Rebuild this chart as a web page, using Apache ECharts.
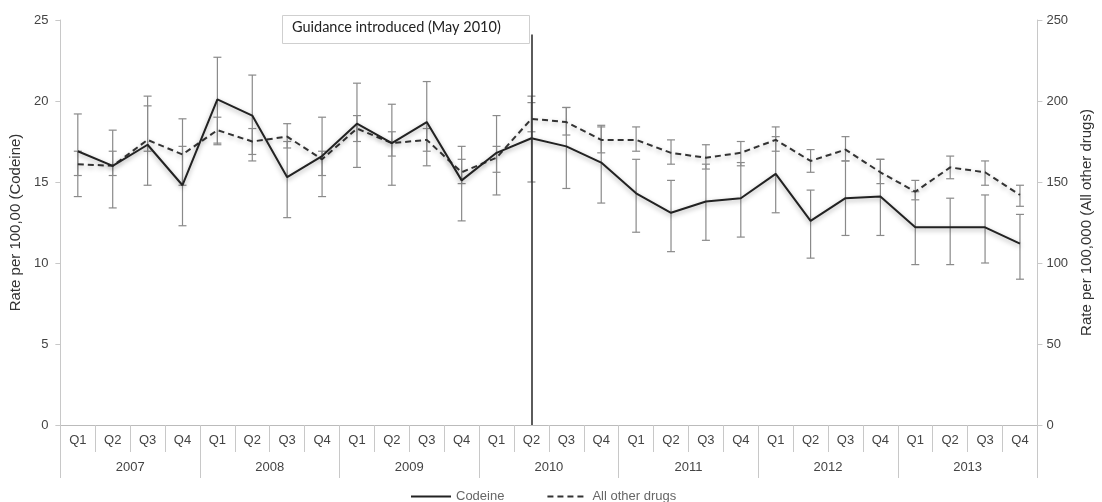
<!DOCTYPE html>
<html>
<head>
<meta charset="utf-8">
<script src="https://cdn.jsdelivr.net/npm/echarts@6/dist/echarts.min.js"></script>
<style>html,body{margin:0;padding:0;background:#fff}#c{width:1102px;height:502px}</style>
</head>
<body>
<div id="c"></div>
<script>
const quarters = ['Q1','Q2','Q3','Q4'];
const years = ['2007','2008','2009','2010','2011','2012','2013'];
const categories = years.flatMap(y => quarters.map(q => q + ' ' + y));
const codeine     = [16.9,16.0,17.3,14.8,20.1,19.1,15.3,16.6,18.6,17.4,18.7,15.1,16.8,17.7,17.2,16.2,14.3,13.1,13.8,14.0,15.5,12.6,14.0,14.1,12.2,12.2,12.2,11.2];
const codeineLow  = [14.1,13.4,14.8,12.3,17.3,16.3,12.8,14.1,15.9,14.8,16.0,12.6,14.2,15.0,14.6,13.7,11.9,10.7,11.4,11.6,13.1,10.3,11.7,11.7,9.9,9.9,10.0,9.0];
const codeineHigh = [19.2,18.2,20.3,17.2,22.7,21.6,17.5,19.0,21.1,19.8,21.2,17.2,19.1,20.3,19.6,18.5,16.4,15.1,16.1,16.2,17.8,14.5,16.3,16.4,14.4,14.0,14.2,13.0];
const otherDrugs  = [161,160,176,167,182,175,178,164,183,174,176,156,165,189,187,176,176,168,165,168,176,163,170,156,144,159,156,142];
const otherLow    = [154,154,169,148,174,167,171,154,175,166,169,149,156,181,179,168,169,161,158,160,169,156,163,149,139,152,148,135];
const otherHigh   = [169,169,197,189,190,183,186,169,191,181,183,164,172,199,196,184,184,176,173,175,184,170,178,164,151,166,163,148];
const leftTicks = {min:0, max:25, interval:5};
const rightTicks = {min:0, max:250, interval:50};
const guidanceIndex = 13;

const chart = echarts.init(document.getElementById('c'));
const font = "'Liberation Sans', Arial, sans-serif";

function errRender(params, api) {
  const i = api.value(0);
  const lo = api.coord([i, api.value(1)]);
  const hi = api.coord([i, api.value(2)]);
  const w = 4;
  const st = {stroke:'#8a8a8a', lineWidth:1.2};
  return {type:'group', children:[
    {type:'line', shape:{x1:lo[0],y1:lo[1],x2:hi[0],y2:hi[1]}, style:st},
    {type:'line', shape:{x1:lo[0]-w,y1:lo[1],x2:lo[0]+w,y2:lo[1]}, style:st},
    {type:'line', shape:{x1:hi[0]-w,y1:hi[1],x2:hi[0]+w,y2:hi[1]}, style:st}
  ]};
}

const lbl = {color:'#444', fontSize:13, fontFamily:font};

chart.setOption({
  animation:false,
  textStyle:{fontFamily:font},
  grid:{left:60, right:57, top:20, bottom:77},
  legend:{
    left:405, top:485, itemWidth:40, itemHeight:10, itemGap:42,
    itemStyle:{opacity:0},
    textStyle:{color:'#666', fontSize:13, fontFamily:font},
    data:['Codeine','All other drugs']
  },
  xAxis:[
    {type:'category', data:categories, position:'bottom',
     axisLine:{lineStyle:{color:'#bbb'}},
     axisTick:{show:true, interval:0, length:27, lineStyle:{color:'#c8c8c8'}},
     axisLabel:Object.assign({interval:0, margin:9, formatter:v=>v.split(' ')[0]}, lbl)},
    {type:'category', data:years, position:'bottom',
     axisLine:{show:false},
     axisTick:{show:true, interval:0, length:53, lineStyle:{color:'#c8c8c8'}},
     axisLabel:Object.assign({interval:0, margin:36}, lbl)}
  ],
  yAxis:[
    {type:'value', min:leftTicks.min, max:leftTicks.max, interval:leftTicks.interval,
     name:'Rate per 100,00 (Codeine)', nameLocation:'middle', nameGap:34,
     nameTextStyle:{color:'#333', fontSize:15, fontFamily:font},
     axisLine:{show:true, lineStyle:{color:'#c8c8c8'}},
     axisTick:{show:true, length:5, lineStyle:{color:'#c8c8c8'}},
     axisLabel:Object.assign({margin:12}, lbl),
     splitLine:{show:false}},
    {type:'value', min:rightTicks.min, max:rightTicks.max, interval:rightTicks.interval,
     name:'Rate per 100,000 (All other drugs)', nameLocation:'middle', nameGap:39, nameRotate:90,
     nameTextStyle:{color:'#333', fontSize:15, fontFamily:font},
     axisLine:{show:true, lineStyle:{color:'#c8c8c8'}},
     axisTick:{show:true, length:5, lineStyle:{color:'#c8c8c8'}},
     axisLabel:Object.assign({margin:9}, lbl),
     splitLine:{show:false}}
  ],
  series:[
    {type:'custom', name:'codeineErr', xAxisIndex:0, yAxisIndex:0, z:2,
     renderItem:errRender, data:codeineLow.map((l,i)=>[i,l,codeineHigh[i]]), encode:{x:0,y:[1,2]}},
    {type:'custom', name:'otherErr', xAxisIndex:0, yAxisIndex:1, z:2,
     renderItem:errRender, data:otherLow.map((l,i)=>[i,l,otherHigh[i]]), encode:{x:0,y:[1,2]}},
    {type:'line', name:'Codeine', xAxisIndex:0, yAxisIndex:0, data:codeine, symbol:'none', z:4,
     lineStyle:{color:'#222', width:2, shadowColor:'rgba(0,0,0,0.35)', shadowBlur:5, shadowOffsetY:2},
     itemStyle:{color:'#222'},
     markLine:{symbol:'none', silent:true, label:{show:false},
       lineStyle:{color:'#333', width:1.6, type:'solid'},
       data:[[{coord:[guidanceIndex, 24.1]},{coord:[guidanceIndex, 0]}]]}},
    {type:'line', name:'All other drugs', xAxisIndex:0, yAxisIndex:1, data:otherDrugs, symbol:'none', z:3,
     lineStyle:{color:'#333', width:2, type:[6,4], shadowColor:'rgba(0,0,0,0.3)', shadowBlur:5, shadowOffsetY:2},
     itemStyle:{color:'#333'}}
  ],
  graphic:[
    {type:'rect', left:282, top:15, shape:{width:247, height:28},
     style:{fill:'#fff', stroke:'#cfcfcf', lineWidth:1}, z:10},
    {type:'text', left:292, top:20,
     style:{text:'Guidance introduced (May 2010)', fill:'#222', font:"14.5px Lato, 'Open Sans', sans-serif"}, z:11}
  ]
});
</script>
</body>
</html>
